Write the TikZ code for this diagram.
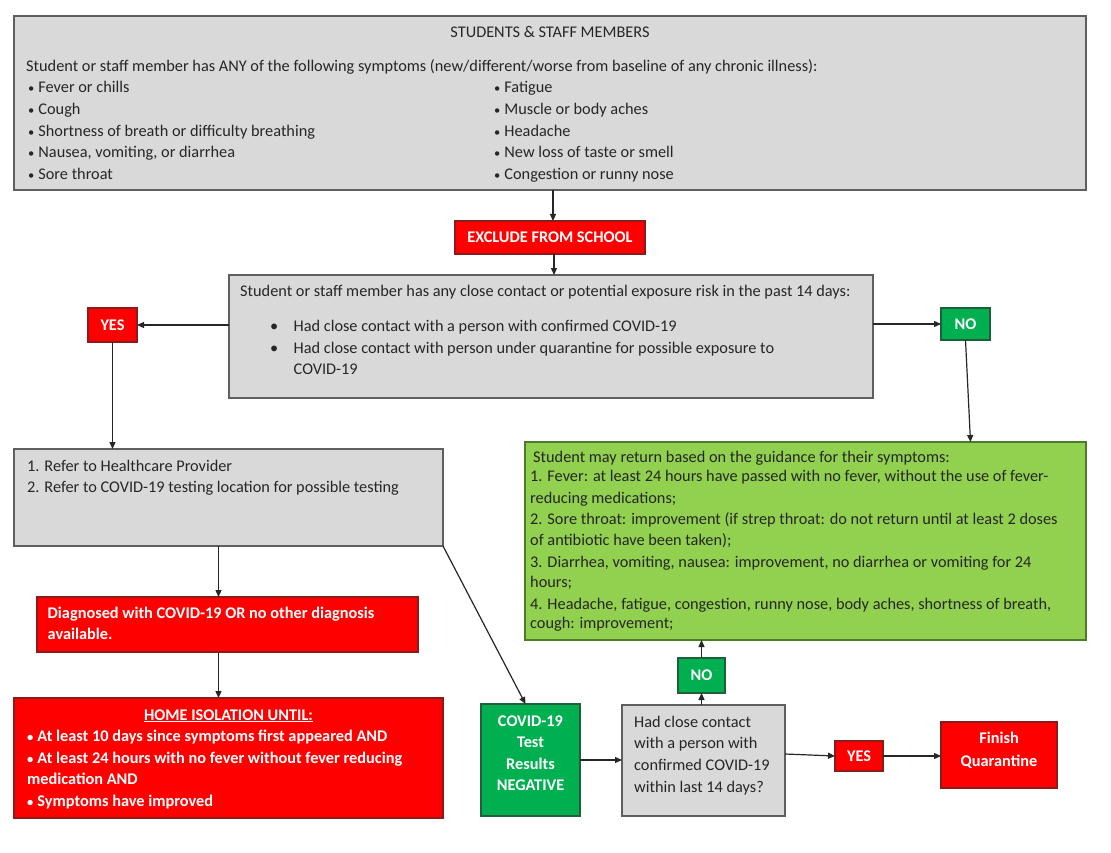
\documentclass[tikz,border=0pt]{standalone}
\usepackage{fontspec}
\setmainfont{Carlito}
\usetikzlibrary{arrows.meta,fit,calc}
\definecolor{gfill}{HTML}{D9D9D9}
\definecolor{gline}{HTML}{5F5F5F}
\definecolor{rfill}{HTML}{FF0000}
\definecolor{rline}{HTML}{8C1B1B}
\definecolor{dgfill}{HTML}{00B050}
\definecolor{dgline}{HTML}{1F5F3A}
\definecolor{lgfill}{HTML}{92D050}
\definecolor{lgline}{HTML}{4E7A2A}
\definecolor{ink}{HTML}{262626}
\newcommand\smbul{{\fontsize{12.5}{12.5}\selectfont •}\hspace{4pt}}
\begin{document}
\begin{tikzpicture}[x=1pt,y=-1pt,
  boxbase/.style={inner sep=0pt,outer sep=0pt,line width=1.2pt},
  graybox/.style={boxbase,draw=gline,fill=gfill},
  redbox/.style={boxbase,draw=rline,fill=rfill},
  greenbox/.style={boxbase,draw=dgline,fill=dgfill},
  lightbox/.style={boxbase,draw=lgline,fill=lgfill},
  txt/.style={inner sep=0pt,text=ink,font=\fontsize{16.3}{21.7}\selectfont},
  wtxt/.style={inner sep=0pt,text=white,font=\fontsize{16.3}{21.7}\selectfont\bfseries},
  arr/.style={line width=1.2pt,draw=ink,-{Triangle[length=7pt,width=6pt]}}]
\useasboundingbox[fill=white] (0,0) rectangle (1111,853);

% ---------- boxes ----------
\node[graybox,fit={(14,16) (1086,190)}] (top) {};
\node[redbox,fit={(455,221) (645,254)}] (excl) {};
\node[graybox,fit={(229,275) (873,398)}] (contact) {};
\node[redbox,fit={(88,308) (137,342)}] (yes1) {};
\node[greenbox,fit={(941,308) (990,340)}] (no1) {};
\node[graybox,fit={(14,449) (443,546)}] (refer) {};
\node[redbox,fit={(37,597) (418,652)}] (diag) {};
\node[redbox,fit={(14,698) (443,818)}] (home) {};
\node[greenbox,fit={(481,704) (580,816)}] (test) {};
\node[graybox,fit={(622,705) (785,816)}] (quest) {};
\node[greenbox,fit={(678,658) (725,693)}] (no2) {};
\node[lightbox,fit={(525,442) (1086,640)}] (ret) {};
\node[redbox,fit={(835,741) (883,771)}] (yes2) {};
\node[redbox,fit={(941,722) (1057,788)}] (finish) {};

% ---------- texts: top box ----------
\node[txt,anchor=base] (ttitle) at (550,38) {STUDENTS \& STAFF MEMBERS};
\node[txt,anchor=base west] (tlead) at (26,72) {Student or staff member has ANY of the following symptoms (new/different/worse from baseline of any chronic illness):};
\foreach \t [count=\i] in {Fever or chills, Cough, Shortness of breath or difficulty breathing, {Nausea, vomiting, or diarrhea}, Sore throat}
  \node[txt,anchor=base west] (lc\i) at (28,{93+21.6*(\i-1)}) {\smbul\t};
\foreach \t [count=\i] in {Fatigue, Muscle or body aches, Headache, New loss of taste or smell, Congestion or runny nose}
  \node[txt,anchor=base west] (rc\i) at (494,{93+21.6*(\i-1)}) {\smbul\t};

% ---------- exclude ----------
\node[wtxt] (texcl) at (excl.center) {EXCLUDE FROM SCHOOL};

% ---------- contact ----------
\node[txt,anchor=base west] (tc0) at (240,296) {Student or staff member has any close contact or potential exposure risk in the past 14 days:};
\node[txt,anchor=base west] (tb1) at (270,331) {\textbullet};
\node[txt,anchor=base west] (tc1) at (293.5,331) {Had close contact with a person with confirmed COVID-19};
\node[txt,anchor=base west] (tb2) at (270,353) {\textbullet};
\node[txt,anchor=base west] (tc2) at (293.5,353) {Had close contact with person under quarantine for possible exposure to};
\node[txt,anchor=base west] (tc3) at (293.5,374) {COVID-19};

\node[wtxt] (tyes1) at (yes1.center) {YES};
\node[wtxt] (tno1) at (no1.center) {NO};

% ---------- refer ----------
\node[txt,anchor=base west] (tr1) at (27,471) {1. Refer to Healthcare Provider};
\node[txt,anchor=base west] (tr2) at (27,492.5) {2. Refer to COVID-19 testing location for possible testing};

% ---------- diagnosed ----------
\node[wtxt,anchor=base west] (td1) at (47.5,618) {Diagnosed with COVID-19 OR no other diagnosis};
\node[wtxt,anchor=base west] (td2) at (47.5,639.5) {available.};

% ---------- home isolation ----------
\node[wtxt,anchor=base] (th0) at (228.5,720) {\underline{HOME ISOLATION UNTIL:}};
\node[wtxt,anchor=base west] (th1) at (27,741.5) {\smbul At least 10 days since symptoms first appeared AND};
\node[wtxt,anchor=base west] (th2) at (27,763) {\smbul At least 24 hours with no fever without fever reducing};
\node[wtxt,anchor=base west] (th3) at (27,784.5) {medication AND};
\node[wtxt,anchor=base west] (th4) at (27,806) {\smbul Symptoms have improved};

% ---------- test negative ----------
\foreach \t [count=\i] in {COVID-19, Test, Results, NEGATIVE}
  \node[wtxt,anchor=base] (tt\i) at (530.5,{726+21.5*(\i-1)}) {\t};

% ---------- question ----------
\foreach \t [count=\i] in {Had close contact, with a person with, confirmed COVID-19, within last 14 days?}
  \node[txt,anchor=base west] (tq\i) at (634,{727+21.7*(\i-1)}) {\t};

\node[wtxt] (tno2) at (no2.center) {NO};
\node[wtxt] (tyes2) at (yes2.center) {YES};
\node[wtxt,anchor=base] (tf1) at (999,743.5) {Finish};
\node[wtxt,anchor=base] (tf2) at (999,766) {Quarantine};

% ---------- return guidance ----------
\node[txt,anchor=base west] (tg0) at (533,462) {Student may return based on the guidance for their symptoms:};
\node[txt,anchor=base west] (tg1) at (530,481.5) {1. Fever: at least 24 hours have passed with no fever, without the use of fever-};
\node[txt,anchor=base west] (tg2) at (530,503) {reducing medications;};
\node[txt,anchor=base west] (tg3) at (530,524) {2. Sore throat: improvement (if strep throat: do not return until at least 2 doses};
\node[txt,anchor=base west] (tg4) at (530,545.5) {of antibiotic have been taken);};
\node[txt,anchor=base west] (tg5) at (530,567.5) {3. Diarrhea, vomiting, nausea: improvement, no diarrhea or vomiting for 24};
\node[txt,anchor=base west] (tg6) at (530,587) {hours;};
\node[txt,anchor=base west] (tg7) at (530,609) {4. Headache, fatigue, congestion, runny nose, body aches, shortness of breath,};
\node[txt,anchor=base west] (tg8) at (530,628.5) {cough: improvement;};

% ---------- connectors ----------
\draw[arr] ([xshift=3]top.south) -- ([xshift=3]excl.north);
\draw[arr] ([xshift=4]excl.south) -- ([xshift=4]excl.south |- contact.north);
\draw[arr] (contact.west |- yes1.east) -- (yes1.east);
\draw[arr] (contact.east |- no1.west) -- (no1.west);
\draw[arr] (yes1.south) -- (yes1.south |- refer.north);
\draw[arr] (no1.south) -- ([xshift=5]no1.south |- ret.north);
\draw[arr] ([xshift=-10]refer.south) -- ([xshift=-10]refer.south |- diag.north);
\draw[arr] ([xshift=-9]diag.south) -- ([xshift=-9]diag.south |- home.north);
\draw[arr] (refer.south east) -- ([xshift=-5]test.north);
\draw[arr] (test.east) -- (test.east -| quest.west);
\draw[arr] (quest.north -| no2.south) -- (no2.south);
\draw[arr] (no2.north) -- (no2.north |- ret.south);
\draw[arr] ([yshift=2]quest.east |- yes2.west) -- (yes2.west);
\draw[arr] (yes2.east) -- (yes2.east -| finish.west);
\end{tikzpicture}
\end{document}
